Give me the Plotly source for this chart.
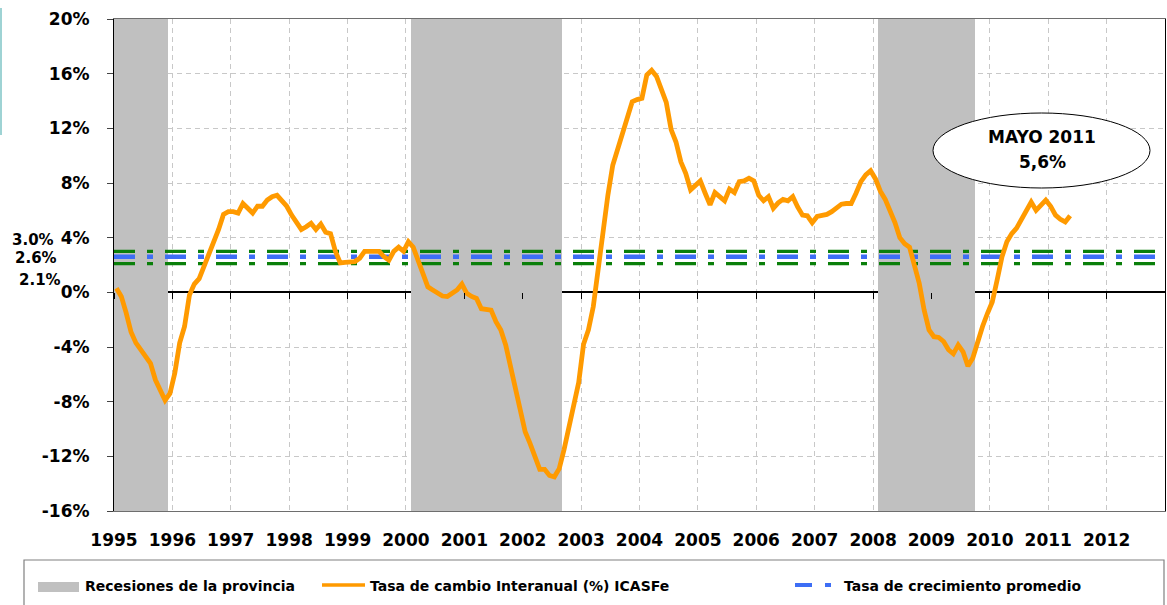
import plotly.graph_objects as go

# ICASFe: monthly year-on-year rate of change (%), Jan 1995 - May 2011
icasfe_1995 = [0.3, -0.3, -1.5, -2.9, -3.7, -4.2, -4.8, -5.2, -6.4, -7.1, -7.9, -7.4]
icasfe_1996 = [-5.9, -3.7, -2.5, -0.2, 0.6, 1.0, 1.9, 2.7, 3.5, 4.6, 5.7, 5.9]
icasfe_1997 = [5.9, 5.8, 6.5, 6.1, 5.8, 6.3, 6.3, 6.75, 7.0, 7.1, 6.7, 6.3]
icasfe_1998 = [5.65, 5.05, 4.6, 4.8, 5.05, 4.6, 5.0, 4.4, 4.3, 3.0, 2.15, 2.2]
icasfe_1999 = [2.2, 2.25, 2.5, 3.0, 3.0, 3.0, 3.0, 2.6, 2.35, 3.0, 3.3, 3.0]
icasfe_2000 = [3.7, 3.3, 2.3, 1.2, 0.4, 0.17, -0.03, -0.27, -0.3, -0.07, 0.17, 0.6]
icasfe_2001 = [-0.07, -0.3, -0.45, -1.2, -1.25, -1.3, -2.15, -2.75, -3.85, -5.45, -6.9, -8.4]
icasfe_2002 = [-10.2, -11.05, -12.0, -12.95, -12.95, -13.4, -13.5, -12.9, -11.5, -9.95, -8.4, -6.6]
icasfe_2003 = [-3.8, -2.75, -1.05, 1.8, 4.6, 7.1, 9.3, 10.4, 11.5, 12.6, 13.95, 14.1]
icasfe_2004 = [14.2, 15.9, 16.25, 15.8, 14.9, 13.9, 11.9, 11.0, 9.55, 8.7, 7.5, 7.85]
icasfe_2005 = [8.15, 7.25, 6.4, 7.3, 7.0, 6.7, 7.55, 7.3, 8.1, 8.15, 8.35, 8.15]
icasfe_2006 = [7.1, 6.7, 7.0, 6.15, 6.55, 6.8, 6.7, 7.0, 6.25, 5.65, 5.6, 5.1]
icasfe_2007 = [5.55, 5.6, 5.7, 5.9, 6.15, 6.45, 6.5, 6.5, 7.25, 8.1, 8.6, 8.9]
icasfe_2008 = [8.3, 7.4, 6.8, 5.95, 5.1, 4.0, 3.55, 3.3, 2.1, 0.65, -1.3, -2.75]
icasfe_2009 = [-3.25, -3.3, -3.6, -4.2, -4.5, -3.85, -4.35, -5.4, -4.8, -3.5, -2.5, -1.55]
icasfe_2010 = [-0.7, 0.9, 2.6, 3.7, 4.3, 4.7, 5.3, 6.0, 6.6, 6.0, 6.4, 6.75]
icasfe_2011 = [6.3, 5.65, 5.35, 5.15, 5.6]

icasfe = (icasfe_1995 + icasfe_1996 + icasfe_1997 + icasfe_1998 + icasfe_1999
          + icasfe_2000 + icasfe_2001 + icasfe_2002 + icasfe_2003 + icasfe_2004
          + icasfe_2005 + icasfe_2006 + icasfe_2007 + icasfe_2008 + icasfe_2009
          + icasfe_2010 + icasfe_2011)
first_year = 1995
last_month_label = "MAYO 2011"

# Provincial recessions (first month, last month)
rec_start = ["1995-01", "2000-02", "2008-02"]
rec_end = ["1995-12", "2002-09", "2009-10"]

# Average growth rate and its band (%)
avg_values = [3.0, 2.6, 2.1]

# Axes
years = list(range(1995, 2013))
year_labels = [str(y) for y in years]
y_ticks = list(range(-16, 21, 4))
y_tick_labels = [f"{v}%" for v in y_ticks]

legend_labels = ["Recesiones de la provincia",
                 "Tasa de cambio Interanual (%) ICASFe",
                 "Tasa de crecimiento promedio"]

# ---------------------------------------------------------------------------
W, H = 1167, 605
ML, MR, MT, MB = 114, 2, 19, 94
PW, PH = W - ML - MR, H - MT - MB
X_RANGE = [1995, 2013]
Y_RANGE = [-16, 20]
FONT = "DejaVu Sans"


def px_x(px):
    return (px - ML) / PW


def px_y(py):
    return 1 - (py - MT) / PH


def ym_to_dec(s):
    y, m = s.split("-")
    return int(y) + (int(m) - 1) / 12


x_months = [first_year + (i + 0.5) / 12 for i in range(len(icasfe))]

fig = go.Figure()

# Recession shading
for s, e in zip(rec_start, rec_end):
    a, b = ym_to_dec(s), ym_to_dec(e)
    fig.add_trace(go.Bar(x=[(a + b) / 2], y=[Y_RANGE[1] - Y_RANGE[0]], base=Y_RANGE[0],
                         width=[b - a], marker=dict(color="#c0c0c0", line=dict(width=0)),
                         hoverinfo="skip", showlegend=False))

# Average growth band
DASH = "21px,12px,6px,12px"
avg_styles = [("#0a7f0a", 3.4), ("#3d6ef5", 4.4), ("#0a7f0a", 3.4)]
for v, (col, w) in zip(avg_values, avg_styles):
    fig.add_trace(go.Scatter(x=X_RANGE, y=[v, v], mode="lines",
                             line=dict(color=col, width=w, dash=DASH),
                             hoverinfo="skip", showlegend=False))

# ICASFe line
fig.add_trace(go.Scatter(x=x_months, y=icasfe, mode="lines", xaxis="x2",
                         line=dict(color="#ff9a00", width=4.8),
                         showlegend=False))

shapes = []
annotations = []

# Left edge accent
shapes.append(dict(type="line", xref="paper", yref="paper",
                   x0=px_x(1), x1=px_x(1), y0=px_y(8), y1=px_y(135),
                   line=dict(color="#9ed3d4", width=2)))

# Callout with the latest reading
ex0, ex1, ey0, ey1 = 933, 1150, 113, 188
shapes.append(dict(type="circle", xref="paper", yref="paper",
                   x0=px_x(ex0), x1=px_x(ex1), y0=px_y(ey1), y1=px_y(ey0),
                   fillcolor="white", line=dict(color="black", width=1), layer="above"))
last_val = icasfe[-1]
annotations.append(dict(xref="paper", yref="paper", x=px_x(1042), y=px_y(137),
                        text=f"<b>{last_month_label}</b>", showarrow=False,
                        font=dict(family=FONT, size=17, color="black"),
                        xanchor="center", yanchor="middle"))
annotations.append(dict(xref="paper", yref="paper", x=px_x(1042), y=px_y(162),
                        text=f"<b>{last_val:.1f}%</b>".replace(".", ","), showarrow=False,
                        font=dict(family=FONT, size=17, color="black"),
                        xanchor="center", yanchor="middle"))

# Band labels to the left of the axis
for v, (lx, ly) in zip(avg_values, [(10, 240), (13, 258), (17, 280)]):
    annotations.append(dict(xref="paper", yref="paper", x=px_x(lx), y=px_y(ly),
                            text=f"<b>{v:.1f}%</b>", showarrow=False,
                            font=dict(family=FONT, size=15, color="black"),
                            xanchor="left", yanchor="middle"))

# Legend box
shapes.append(dict(type="rect", xref="paper", yref="paper",
                   x0=px_x(24), x1=px_x(1164), y0=px_y(607), y1=px_y(560),
                   line=dict(color="#808080", width=1.2), fillcolor="white"))
leg_y = 586
shapes.append(dict(type="rect", xref="paper", yref="paper",
                   x0=px_x(38), x1=px_x(79), y0=px_y(592), y1=px_y(582),
                   fillcolor="#c0c0c0", line=dict(width=0)))
shapes.append(dict(type="line", xref="paper", yref="paper",
                   x0=px_x(322), x1=px_x(365), y0=px_y(585), y1=px_y(585),
                   line=dict(color="#ff9a00", width=3.5)))
shapes.append(dict(type="line", xref="paper", yref="paper",
                   x0=px_x(795), x1=px_x(831), y0=px_y(585), y1=px_y(585),
                   line=dict(color="#3d6ef5", width=4, dash="17px,13px,6px,20px")))
for txt, lx in zip(legend_labels, [83, 368, 842]):
    annotations.append(dict(xref="paper", yref="paper", x=px_x(lx), y=px_y(leg_y),
                            text=f"<b>{txt}</b>", showarrow=False,
                            font=dict(family=FONT, size=14, color="black"),
                            xanchor="left", yanchor="middle"))

fig.update_layout(
    width=W, height=H,
    margin=dict(l=ML, r=MR, t=MT, b=MB, pad=0),
    paper_bgcolor="white", plot_bgcolor="white",
    barmode="overlay", bargap=0,
    showlegend=False,
    xaxis=dict(range=X_RANGE, tickmode="array", tickvals=years, ticktext=year_labels,
               tickfont=dict(family=FONT, size=17, color="black", weight="bold"),
               ticks="", ticklabelstandoff=13,
               showgrid=True, gridcolor="#c8c8c8", griddash="5px,4px", gridwidth=1,
               showline=True, linecolor="#6e6e6e", linewidth=1.2, mirror=True,
               zeroline=False, fixedrange=True),
    xaxis2=dict(range=X_RANGE, overlaying="x", anchor="free", position=16 / 36,
                tickmode="array", tickvals=years, showticklabels=False,
                ticks="outside", ticklen=6, tickcolor="black", tickwidth=1,
                showgrid=False, showline=False, zeroline=False, fixedrange=True),
    yaxis=dict(range=Y_RANGE, tickmode="array", tickvals=y_ticks, ticktext=y_tick_labels,
               tickfont=dict(family=FONT, size=17, color="black", weight="bold"),
               ticks="outside", ticklen=6, tickcolor="#444", ticklabelstandoff=14,
               showgrid=True, gridcolor="#c8c8c8", griddash="5px,4px", gridwidth=1,
               showline=True, linecolor="black", linewidth=1.2, mirror=True,
               zeroline=True, zerolinecolor="black", zerolinewidth=1.5,
               fixedrange=True),
    shapes=shapes,
    annotations=annotations,
)

fig.write_html("out.html")
